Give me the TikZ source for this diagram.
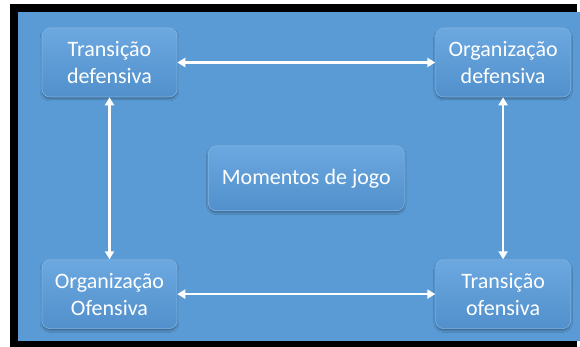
\documentclass[tikz,border=0pt]{standalone}
\usepackage{fontspec}
\setmainfont{Carlito}
\usepackage{tikz}
\usetikzlibrary{arrows.meta, positioning, calc, shadows.blur}
\definecolor{slide}{HTML}{5B9BD5}
\definecolor{boxtop}{HTML}{6CA8E0}
\definecolor{boxbot}{HTML}{5190CC}
\definecolor{boxrim}{HTML}{7FB4E4}

\begin{document}
\begin{tikzpicture}[
    x=1pt, y=-1pt,
    node distance=162pt and 258pt,
    every node/.style={font=\fontsize{22}{27}\selectfont, text=white},
    phase/.style={rectangle, rounded corners=8pt, draw=boxrim, line width=0.6pt,
                  top color=boxtop, bottom color=boxbot,
                  minimum width=135pt, minimum height=69pt, align=center,
                  blur shadow={shadow xshift=0pt, shadow yshift=-2pt,
                               shadow opacity=35}},
    arrow/.style={{Triangle[length=8pt,width=9pt]}-{Triangle[length=8pt,width=9pt]},
                  line width=2.4pt, color=white}
]

% Frame
\useasboundingbox (0,0) rectangle (580,347);
\fill[black] (10,4) rectangle (577,347);
\fill[slide] (18,12) rectangle (582,341);

% Phases
\node[phase] (td) at (109.5,62.5) {Transição\\defensiva};
\node[phase, right=of td] (od) {Organização\\defensiva};
\node[phase, below=of td] (oo) {Organização\\Ofensiva};
\node[phase, below=of od] (to) {Transição\\ofensiva};

% Centre
\node[phase, minimum width=196pt, minimum height=65pt] (mj)
    at ($(td)!0.5!(to)$) {Momentos de jogo};

% Arrows
\draw[arrow] (td) -- (od);
\draw[arrow] (td) -- (oo);
\draw[arrow] (od) -- (to);
\draw[arrow] (oo) -- (to);

\end{tikzpicture}
\end{document}
